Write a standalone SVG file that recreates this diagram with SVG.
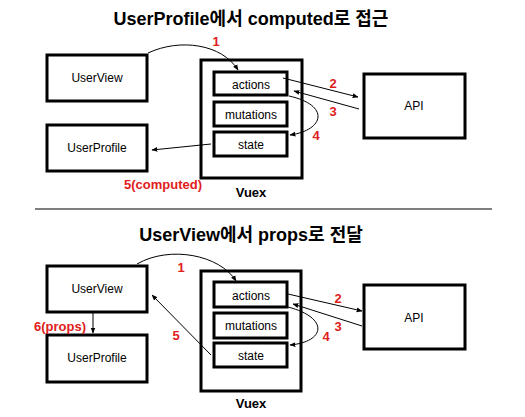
<svg xmlns="http://www.w3.org/2000/svg" width="525" height="417" viewBox="0 0 525 417">
<defs>
<marker id="ah" viewBox="0 0 10 10" refX="9" refY="5" markerWidth="6" markerHeight="6" orient="auto" markerUnits="userSpaceOnUse">
<path d="M0,1 L10,5 L0,9 z" fill="#000"/>
</marker>
</defs>
<style>
.box{fill:#fff;stroke:#000;stroke-width:3}
.t{font-family:"Liberation Sans",Arial,"Noto Sans CJK KR",sans-serif;font-size:12px;fill:#000;text-anchor:middle}
.title{font-family:"Liberation Sans",Arial,"Noto Sans CJK KR",sans-serif;font-size:18px;font-weight:bold;fill:#000;text-anchor:middle}
.red{font-family:"Liberation Sans",Arial,sans-serif;font-size:13px;font-weight:bold;fill:#e0201b;text-anchor:middle}
.vx{font-family:"Liberation Sans",Arial,sans-serif;font-size:13px;font-weight:bold;fill:#000;text-anchor:middle}
.c{fill:none;stroke:#000;stroke-width:1;marker-end:url(#ah)}
</style>
<rect width="525" height="417" fill="#fff"/>
<text class="title" x="251" y="25">UserProfile에서 computed로 접근</text>
<g id="top-userview"><rect class="box" x="47" y="55" width="100" height="46"/><text class="t" x="97" y="82">UserView</text></g>
<g id="top-userprofile"><rect class="box" x="47" y="125" width="100" height="46"/><text class="t" x="97" y="152">UserProfile</text></g>
<g id="top-vuex"><rect class="box" x="201" y="60" width="101" height="118"/><text class="vx" x="251" y="197">Vuex</text></g>
<g id="top-actions"><rect class="box" x="214" y="72" width="73" height="23"/><text class="t" x="251" y="89">actions</text></g>
<g id="top-mutations"><rect class="box" x="214" y="102" width="73" height="24"/><text class="t" x="251" y="119">mutations</text></g>
<g id="top-state"><rect class="box" x="214" y="132" width="73" height="24"/><text class="t" x="251" y="149">state</text></g>
<g id="top-api"><rect class="box" x="364" y="74" width="101" height="64"/><text class="t" x="414" y="110">API</text></g>
<g id="top-connectors">
<path class="c" d="M148,53 C180,38 222,44 238,70"/>
<path class="c" d="M283,78 L358,97"/>
<path class="c" d="M359,109 L294,91"/>
<path class="c" d="M289,96 C330,105 325,130 290,135"/>
<path class="c" d="M211,144 L152,150"/>
</g>
<text class="red" x="216" y="46">1</text>
<text class="red" x="333" y="88">2</text>
<text class="red" x="333" y="116">3</text>
<text class="red" x="316" y="140">4</text>
<text class="red" x="163" y="189">5(computed)</text>
<line x1="35" y1="209" x2="492" y2="209" stroke="#555" stroke-width="1.5"/>
<text class="title" x="251" y="241">UserView에서 props로 전달</text>
<g id="bot-userview"><rect class="box" x="47" y="266" width="100" height="46"/><text class="t" x="97" y="293">UserView</text></g>
<g id="bot-userprofile"><rect class="box" x="47" y="335" width="100" height="47"/><text class="t" x="97" y="362">UserProfile</text></g>
<g id="bot-vuex"><rect class="box" x="201" y="271" width="100" height="120"/><text class="vx" x="251" y="408">Vuex</text></g>
<g id="bot-actions"><rect class="box" x="214" y="282" width="73" height="25"/><text class="t" x="251" y="300">actions</text></g>
<g id="bot-mutations"><rect class="box" x="214" y="313" width="73" height="25"/><text class="t" x="251" y="330">mutations</text></g>
<g id="bot-state"><rect class="box" x="214" y="343" width="73" height="24"/><text class="t" x="251" y="360">state</text></g>
<g id="bot-api"><rect class="box" x="364" y="285" width="101" height="64"/><text class="t" x="414" y="322">API</text></g>
<g id="bot-connectors">
<path class="c" d="M137,264 C170,245 220,255 236,281"/>
<path class="c" d="M288,294 L362,311"/>
<path class="c" d="M362,326 L293,304"/>
<path class="c" d="M288,307 C330,318 325,342 290,345"/>
<path class="c" d="M211,355 L152,295"/>
<path class="c" d="M93,313 L93,333"/>
</g>
<text class="red" x="181" y="272">1</text>
<text class="red" x="338" y="303">2</text>
<text class="red" x="338" y="331">3</text>
<text class="red" x="326" y="341">4</text>
<text class="red" x="176" y="340">5</text>
<text class="red" x="60" y="331">6(props)</text>
</svg>
